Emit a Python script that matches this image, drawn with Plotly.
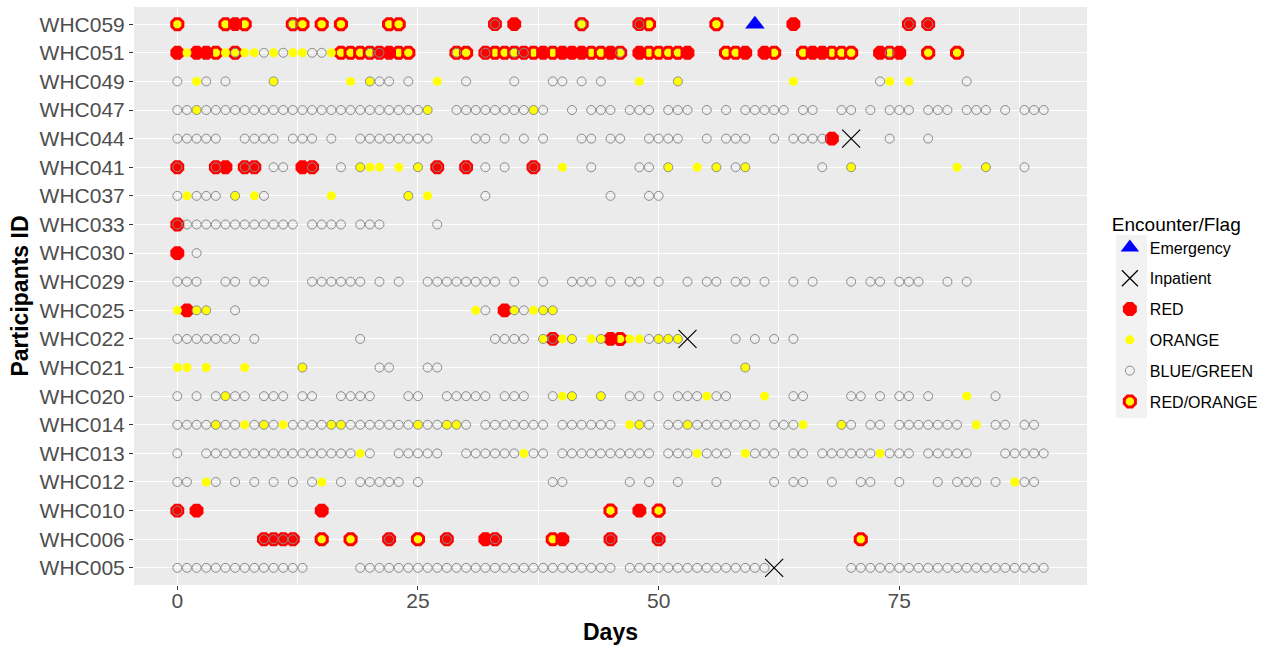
import plotly.graph_objects as go

participants = ["WHC005", "WHC006", "WHC010", "WHC012", "WHC013", "WHC014", "WHC020",
                "WHC021", "WHC022", "WHC025", "WHC029", "WHC030", "WHC033", "WHC037",
                "WHC041", "WHC044", "WHC047", "WHC049", "WHC051", "WHC059"]

x_ticks = [0, 25, 50, 75]

emergency = {"WHC059": [60]}

inpatient = {"WHC044": [70], "WHC022": [53], "WHC005": [62]}

red = {
    "WHC059": [6, 33, 35, 48, 64, 76, 78],
    "WHC051": [0, 2, 3, 21, 22, 32, 36, 38, 40, 41, 42, 45, 48, 53, 59, 61, 66, 67, 73, 75],
    "WHC044": [68],
    "WHC041": [0, 4, 5, 7, 8, 13, 14, 27, 30, 37],
    "WHC033": [0],
    "WHC030": [0],
    "WHC025": [1, 34],
    "WHC022": [39, 45],
    "WHC010": [0, 2, 15, 48],
    "WHC006": [9, 10, 11, 12, 22, 28, 32, 33, 40, 45, 50],
}

orange = {
    "WHC051": [1, 5, 7, 8, 10, 12, 13, 16],
    "WHC049": [2, 10, 18, 20, 27, 48, 52, 64, 74, 76],
    "WHC047": [2, 26, 37],
    "WHC041": [19, 20, 21, 23, 25, 40, 51, 54, 56, 59, 70, 81, 84],
    "WHC037": [1, 6, 8, 16, 24, 26],
    "WHC025": [0, 2, 3, 31, 35, 37, 38, 39],
    "WHC022": [38, 40, 41, 43, 44, 47, 48, 50, 51, 52],
    "WHC021": [0, 1, 3, 7, 13, 59],
    "WHC020": [5, 40, 41, 44, 55, 61, 82],
    "WHC014": [4, 7, 9, 11, 16, 17, 25, 28, 29, 47, 48, 53, 65, 69, 83],
    "WHC013": [19, 36, 54, 59, 73],
    "WHC012": [3, 15, 87],
}

blue_green = {
    "WHC059": [12, 33, 42, 48, 76, 78],
    "WHC051": [6, 9, 11, 14, 15, 20, 21, 29, 32, 35, 36, 46, 74],
    "WHC049": [0, 3, 5, 10, 20, 21, 22, 24, 30, 35, 39, 40, 42, 44, 52, 73, 82],
    "WHC047": [0, 1, 2, 3, 4, 5, 6, 7, 8, 9, 10, 11, 12, 13, 14, 15, 16, 17, 18, 19, 20,
               21, 22, 23, 24, 25, 26, 29, 30, 31, 32, 33, 34, 35, 36, 37, 38, 41, 43, 44,
               45, 47, 48, 49, 51, 52, 53, 55, 57, 59, 60, 61, 62, 63, 65, 66, 69, 70, 72,
               74, 75, 76, 78, 79, 80, 82, 83, 84, 86, 88, 89, 90],
    "WHC044": [0, 1, 2, 3, 4, 7, 8, 9, 10, 12, 13, 14, 16, 19, 20, 21, 22, 23, 24, 25, 26,
               31, 32, 34, 36, 38, 42, 43, 45, 46, 49, 50, 51, 52, 55, 57, 58, 59, 62, 64,
               65, 66, 67, 74, 78],
    "WHC041": [0, 4, 7, 8, 10, 11, 14, 17, 19, 25, 27, 30, 32, 34, 37, 43, 48, 49, 51, 56,
               58, 59, 67, 70, 84, 88],
    "WHC037": [0, 2, 3, 4, 6, 9, 24, 32, 45, 49, 50],
    "WHC033": [0, 1, 2, 3, 4, 5, 6, 7, 8, 9, 10, 11, 12, 14, 15, 16, 17, 19, 20, 21, 27],
    "WHC030": [2],
    "WHC029": [0, 1, 2, 5, 6, 8, 9, 14, 15, 16, 17, 18, 19, 21, 23, 26, 27, 28, 29, 30, 31,
               32, 33, 35, 38, 41, 42, 43, 45, 47, 48, 50, 53, 55, 56, 58, 59, 61, 64, 66,
               70, 72, 73, 75, 76, 77, 80, 82],
    "WHC025": [2, 3, 6, 32, 35, 36, 38, 39],
    "WHC022": [0, 1, 2, 3, 4, 5, 6, 8, 19, 33, 34, 35, 36, 38, 39, 41, 44, 49, 50, 51, 52,
               58, 60, 62, 64],
    "WHC021": [13, 21, 22, 26, 27, 59],
    "WHC020": [0, 2, 4, 5, 6, 7, 9, 10, 11, 13, 14, 17, 18, 19, 20, 24, 25, 28, 29, 30, 31,
               32, 34, 35, 36, 39, 41, 44, 47, 48, 50, 52, 53, 54, 56, 57, 64, 65, 70, 71,
               73, 75, 76, 78, 85],
    "WHC014": [0, 1, 2, 3, 4, 5, 6, 8, 9, 10, 12, 13, 14, 15, 16, 17, 18, 19, 20, 21, 22,
               23, 24, 25, 26, 27, 28, 29, 30, 32, 33, 34, 35, 36, 37, 38, 40, 41, 42, 43,
               44, 45, 48, 49, 51, 52, 53, 54, 55, 56, 57, 58, 59, 60, 62, 63, 64, 69, 70,
               72, 73, 75, 76, 77, 78, 79, 80, 81, 85, 86, 88, 89],
    "WHC013": [0, 3, 4, 5, 6, 7, 8, 9, 10, 11, 12, 13, 14, 15, 16, 17, 18, 20, 23, 24, 25,
               26, 27, 30, 31, 32, 33, 34, 35, 37, 38, 40, 41, 42, 43, 44, 45, 46, 47, 48,
               49, 51, 52, 53, 55, 56, 57, 60, 61, 62, 64, 65, 67, 68, 69, 70, 71, 72, 74,
               75, 76, 78, 79, 80, 81, 82, 86, 87, 88, 89, 90],
    "WHC012": [0, 1, 4, 6, 8, 10, 12, 14, 17, 19, 20, 21, 22, 23, 25, 39, 40, 47, 49, 52,
               56, 62, 64, 65, 68, 71, 72, 75, 79, 81, 82, 83, 85, 88, 89],
    "WHC010": [0],
    "WHC006": [9, 10, 11, 12, 22, 28, 33, 45, 50],
    "WHC005": [0, 1, 2, 3, 4, 5, 6, 7, 8, 9, 10, 11, 12, 13,
               19, 20, 21, 22, 23, 24, 25, 26, 27, 28, 29, 30, 31, 32, 33, 34, 35, 36, 37,
               38, 39, 40, 41, 42, 43, 44, 45,
               47, 48, 49, 50, 51, 52, 53, 54, 55, 56, 57, 58, 59, 60, 61,
               70, 71, 72, 73, 74, 75, 76, 77, 78, 79, 80, 81, 82, 83, 84, 85, 86, 87, 88,
               89, 90],
}

red_orange = {
    "WHC059": [0, 5, 7, 12, 13, 15, 17, 22, 23, 42, 49, 56],
    "WHC051": [4, 6, 17, 18, 19, 20, 23, 24, 29, 30, 33, 34, 35, 37, 39, 43, 44, 46, 49,
               50, 51, 52, 57, 58, 62, 65, 68, 69, 70, 74, 78, 81],
    "WHC022": [46],
    "WHC010": [45, 50],
    "WHC006": [15, 18, 25, 39, 71],
}


def expand(d):
    xs, ys = [], []
    for pid, days in d.items():
        for day in days:
            xs.append(day)
            ys.append(pid)
    return xs, ys


fig = go.Figure()

specs = [
    ("RED/ORANGE", red_orange, dict(symbol="octagon", size=12, color="#FFFF00",
                                    line=dict(color="#FF0000", width=3)), 6),
    ("RED", red, dict(symbol="octagon", size=15, color="#FF0000", line=dict(width=0)), 3),
    ("ORANGE", orange, dict(symbol="circle", size=9, color="#FFFF00", line=dict(width=0)), 4),
    ("BLUE/GREEN", blue_green, dict(symbol="circle-open", size=9, color="#8C8C8C",
                                    line=dict(color="#8C8C8C", width=1)), 5),
    ("Inpatient", inpatient, dict(symbol="x-thin-open", size=18, color="#000000",
                                  line=dict(color="#000000", width=1.2)), 2),
    ("Emergency", emergency, dict(symbol="triangle-up", size=17, color="#0000FF",
                                  line=dict(width=0)), 1),
]

for name, data, marker, rank in specs:
    xs, ys = expand(data)
    fig.add_trace(go.Scatter(x=xs, y=ys, mode="markers", name=name, marker=marker,
                             legendrank=rank, legendgroup=name))

font_family = "Liberation Sans, Arial, sans-serif"

fig.update_layout(
    width=1277, height=645,
    margin=dict(l=134, r=190, t=7, b=60),
    paper_bgcolor="white",
    plot_bgcolor="#EBEBEB",
    font=dict(family=font_family, color="#4D4D4D"),
    legend=dict(
        title=dict(text="Encounter/Flag", font=dict(size=19, color="#000000")),
        font=dict(size=16, color="#000000"),
        x=1.024, xanchor="left", y=0.656, yanchor="top",
        traceorder="grouped", tracegroupgap=7,
        bgcolor="rgba(0,0,0,0)",
        itemsizing="trace",
    ),
    xaxis=dict(
        range=[-4.5, 94.5],
        tickvals=x_ticks,
        ticktext=[str(v) for v in x_ticks],
        showgrid=True, gridcolor="white", gridwidth=1.4,
        minor=dict(dtick=12.5, tick0=12.5, showgrid=True, gridcolor="white", gridwidth=0.7),
        zeroline=False,
        ticks="outside", ticklen=4, tickcolor="#333333", tickwidth=1,
        tickfont=dict(size=21, color="#4D4D4D"),
        ticklabelstandoff=-7,
        title=dict(text="<b>Days</b>", font=dict(size=23, color="#000000"), standoff=14),
        showline=False,
        automargin=False,
    ),
    yaxis=dict(
        type="category",
        categoryorder="array",
        categoryarray=participants,
        range=[-0.6, len(participants) - 0.4],
        showgrid=True, gridcolor="white", gridwidth=1.4,
        zeroline=False,
        ticks="outside", ticklen=4, tickcolor="#333333", tickwidth=1,
        tickfont=dict(size=21, color="#4D4D4D"),
        title=dict(text="<b>Participants ID</b>", font=dict(size=23, color="#000000"),
                   standoff=4),
        showline=False,
        automargin=False,
    ),
    shapes=[dict(type="rect", xref="paper", yref="paper",
                 x0=(1116 - 134) / 953, x1=(1147 - 134) / 953,
                 y0=(585 - 418) / 578, y1=(585 - 235) / 578,
                 fillcolor="#F2F2F2", line=dict(width=0), layer="below")],
)

fig.write_html("out.html", config={"displayModeBar": False},
               post_script="document.body.style.margin='0px';")
